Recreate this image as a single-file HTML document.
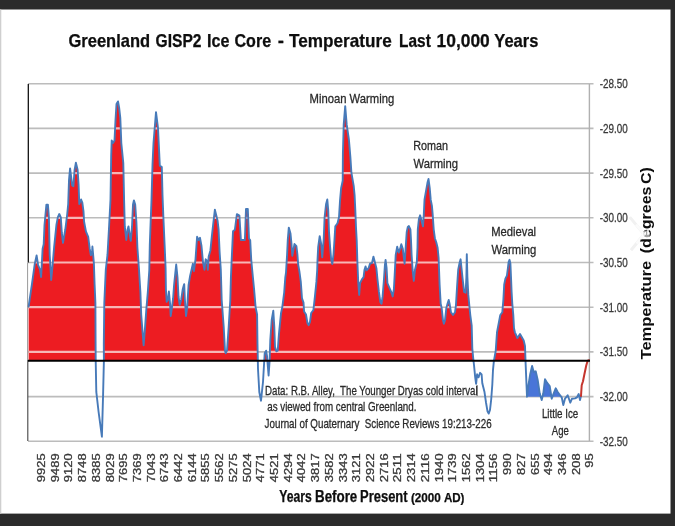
<!DOCTYPE html>
<html><head><meta charset="utf-8"><title>Greenland GISP2 Ice Core</title>
<style>html,body{margin:0;padding:0;background:#2b2b2b;}body{width:675px;height:526px;overflow:hidden;}svg{display:block;}text{font-family:"Liberation Sans",sans-serif;}</style></head><body>
<svg width="675" height="526" viewBox="0 0 675 526">
<defs><clipPath id="above"><rect x="0" y="0" width="675" height="360.7"/></clipPath>
<clipPath id="fillclip"><polygon points="28.6,360.7 28.6,306.5 29.2,302.7 31.9,284.3 34.8,263.6 36.6,255.4 38.1,265.0 40.0,269.5 41.1,277.0 42.0,260.6 42.6,248.7 43.7,244.3 44.5,225.0 45.5,214.3 46.4,204.7 47.9,204.7 48.9,217.3 49.7,254.7 51.2,280.0 52.6,265.0 54.1,247.3 56.4,225.0 57.8,217.3 59.3,214.0 60.8,217.3 61.8,232.7 63.0,242.8 65.3,229.5 67.2,214.3 68.2,204.0 69.0,180.2 70.1,168.4 71.2,177.3 72.2,185.4 73.4,186.2 74.6,169.8 75.9,162.7 77.6,169.8 78.6,184.7 79.3,204.0 81.1,199.5 82.3,202.5 83.5,211.4 84.1,221.8 86.0,231.7 88.2,236.9 89.7,248.7 90.9,255.4 92.0,253.2 92.4,246.5 93.0,253.2 93.9,263.6 94.6,284.3 95.4,302.7 95.6,344.0 95.7,360.6 96.3,391.9 98.6,412.0 101.9,436.7 103.1,394.4 103.9,360.6 103.8,344.0 104.3,302.7 105.8,269.5 107.5,254.7 109.0,228.0 110.5,199.5 111.2,155.0 111.7,140.5 113.0,143.0 114.5,140.5 115.5,120.0 116.5,104.0 118.0,101.4 119.2,108.0 120.3,117.8 121.3,143.0 123.3,163.0 124.1,200.0 124.8,226.7 126.3,240.0 127.5,229.7 128.5,226.4 129.6,234.0 130.8,240.8 132.0,226.7 133.0,204.5 133.9,200.4 135.2,204.5 136.4,222.3 137.4,247.5 138.9,268.2 140.4,292.3 141.2,314.5 142.6,332.3 143.6,345.3 144.9,329.3 146.4,308.6 147.8,292.3 149.3,270.0 149.8,244.5 150.8,217.8 151.5,200.0 152.5,165.0 153.5,143.0 156.0,112.2 158.0,128.0 159.8,165.6 161.8,167.0 162.5,195.0 163.4,217.8 164.6,244.5 165.6,268.0 165.9,289.3 166.7,301.9 167.9,299.7 168.9,291.5 170.1,304.1 170.7,316.0 172.0,307.1 173.1,298.2 174.1,284.8 175.3,273.0 176.2,264.5 177.5,277.4 178.5,296.7 179.7,304.9 181.2,299.7 182.7,289.3 184.2,284.1 184.9,299.7 186.0,316.0 187.2,307.1 188.6,284.8 190.1,275.9 192.9,263.8 193.9,271.2 195.5,259.3 197.1,236.8 198.6,240.0 200.0,237.8 201.5,246.0 203.0,262.3 204.5,269.7 205.7,259.3 207.2,260.8 207.8,269.7 208.7,256.4 210.4,250.4 211.9,235.6 213.4,222.3 214.9,209.6 216.1,214.8 217.6,220.8 218.6,229.7 219.6,251.9 220.8,269.7 221.7,300.0 223.7,326.7 225.0,350.7 225.7,353.3 227.0,350.7 228.7,326.7 230.3,300.0 230.9,277.7 231.7,259.3 233.0,231.2 234.9,229.7 236.9,214.1 239.4,215.6 240.9,240.0 244.9,240.0 246.0,208.9 247.8,208.9 249.0,238.6 250.2,240.0 251.2,259.3 252.2,270.0 254.1,289.3 255.6,307.1 257.1,314.5 257.5,344.0 258.0,369.0 259.3,392.0 261.0,400.7 263.0,382.0 263.7,370.0 264.7,353.3 266.1,350.7 267.0,356.0 268.6,375.5 269.6,360.6 270.3,340.0 271.7,320.0 273.3,310.7 274.3,326.7 275.0,346.7 276.3,351.3 277.7,350.7 279.0,333.3 281.0,313.3 282.3,307.1 284.2,292.3 285.3,277.4 286.0,272.7 287.1,254.3 287.8,239.5 288.8,227.6 290.5,233.6 291.5,244.0 292.3,255.8 293.4,249.9 294.5,244.0 296.4,246.2 297.4,254.3 298.2,264.7 299.5,272.0 300.8,281.9 302.0,298.2 303.5,302.6 304.1,311.5 306.0,314.5 307.5,323.4 308.7,325.2 310.0,321.9 311.2,313.0 313.4,310.0 314.9,296.7 316.4,281.9 317.2,270.0 317.5,260.3 318.2,246.9 319.7,236.2 321.2,244.0 322.2,257.3 323.7,239.5 324.6,217.3 326.1,203.9 327.3,199.5 328.2,209.8 329.0,232.0 330.1,246.9 331.1,258.8 332.3,264.0 333.5,254.3 334.5,239.5 335.3,226.2 337.5,223.2 339.0,217.3 340.0,200.9 341.1,188.3 342.7,180.8 342.9,154.3 343.7,124.7 345.2,106.1 346.7,124.7 348.9,139.5 350.4,157.3 351.4,172.7 353.7,185.8 354.6,195.0 355.3,209.8 356.0,227.6 356.7,240.0 357.4,262.3 358.2,281.5 359.2,294.9 360.1,283.0 361.9,279.3 363.6,277.1 364.5,269.7 365.6,266.4 366.6,270.4 368.5,268.2 370.0,263.7 372.0,263.0 373.4,256.6 374.9,262.3 376.4,268.2 377.4,278.6 378.9,291.9 380.4,302.3 381.5,303.8 382.6,296.4 383.8,281.5 384.9,265.2 385.6,260.0 386.6,268.2 387.4,283.0 389.3,287.5 391.2,291.9 392.7,296.4 393.9,289.0 394.8,272.6 395.7,254.8 397.2,246.7 398.7,252.6 400.1,248.9 401.3,244.2 402.8,248.9 403.7,256.3 404.6,263.7 405.6,248.9 406.7,232.3 407.8,227.0 408.9,226.1 410.4,229.3 411.0,240.0 411.6,254.8 412.6,269.7 413.8,280.8 415.0,269.7 416.8,262.3 417.5,247.4 417.8,229.3 418.9,219.0 420.1,215.3 421.5,220.4 423.0,226.4 423.8,214.5 424.5,199.7 426.3,189.3 427.5,182.6 428.5,178.9 429.7,187.8 430.7,199.7 431.9,205.6 432.7,214.5 433.7,229.3 434.9,238.2 436.4,242.7 437.6,247.7 438.6,257.8 439.6,284.5 440.7,303.8 441.7,308.3 443.0,320.3 443.9,323.7 445.0,320.3 446.3,308.3 447.7,303.0 448.7,300.0 449.7,304.3 451.0,312.3 453.0,315.0 455.0,312.3 455.9,305.7 457.2,284.5 458.2,269.7 459.7,262.3 460.6,259.3 461.5,268.2 462.6,278.6 464.1,291.9 465.6,292.7 466.4,277.1 466.8,254.1 467.4,277.1 468.3,294.9 469.3,305.3 470.3,315.0 471.7,325.7 472.3,348.3 473.3,359.0 474.0,365.0 475.2,377.3 476.1,383.9 477.1,374.3 478.6,377.3 480.1,372.8 481.6,374.3 482.3,383.2 484.5,392.1 486.0,402.5 487.5,411.4 488.7,413.6 490.0,409.9 491.2,399.5 492.3,384.7 493.0,369.8 493.9,360.9 495.7,351.0 497.0,332.3 499.0,321.7 500.3,315.0 502.3,312.3 503.4,299.3 504.2,284.5 505.4,278.6 506.9,275.6 507.9,268.2 508.6,262.0 509.5,259.8 510.4,263.5 511.0,277.1 511.6,291.9 512.3,303.8 513.3,315.0 514.0,328.3 514.9,332.3 517.4,338.0 520.0,334.0 523.7,340.5 525.0,346.0 525.5,360.6 527.0,396.7 528.5,385.0 530.2,374.2 532.1,366.0 533.7,372.0 535.7,371.3 537.7,380.0 539.7,393.3 541.7,400.0 543.3,393.3 545.0,379.3 547.0,382.7 549.7,386.0 551.7,398.7 553.7,393.3 555.7,388.3 557.7,392.0 559.7,394.7 561.7,397.3 563.3,405.0 565.0,398.7 567.7,395.3 570.3,402.7 572.0,398.7 575.0,398.4 577.0,397.3 578.7,394.0 580.0,400.0 581.0,396.0 581.7,385.3 583.0,381.3 584.3,374.7 586.3,365.3 587.7,360.7 589.0,360.3 589.0,360.7"/></clipPath>
<filter id="soft" x="-5%" y="-5%" width="110%" height="110%"><feGaussianBlur stdDeviation="0.45"/></filter></defs>
<rect x="0" y="0" width="675" height="526" fill="#2b2b2b"/>
<rect x="0" y="9.5" width="670.5" height="504.1" fill="#ffffff"/>
<rect x="0" y="9.5" width="1.3" height="504.1" fill="#cfcfcf"/>
<g filter="url(#soft)">
<line x1="28" y1="83.7" x2="593.5" y2="83.7" stroke="#bcbcbc" stroke-width="1.6"/>
<line x1="28" y1="128.4" x2="593.5" y2="128.4" stroke="#bcbcbc" stroke-width="1.6"/>
<line x1="28" y1="173.1" x2="593.5" y2="173.1" stroke="#bcbcbc" stroke-width="1.6"/>
<line x1="28" y1="217.8" x2="593.5" y2="217.8" stroke="#bcbcbc" stroke-width="1.6"/>
<line x1="28" y1="262.5" x2="593.5" y2="262.5" stroke="#bcbcbc" stroke-width="1.6"/>
<line x1="28" y1="307.2" x2="593.5" y2="307.2" stroke="#bcbcbc" stroke-width="1.6"/>
<line x1="28" y1="351.9" x2="593.5" y2="351.9" stroke="#bcbcbc" stroke-width="1.6"/>
<line x1="28" y1="396.6" x2="593.5" y2="396.6" stroke="#bcbcbc" stroke-width="1.6"/>
<line x1="28" y1="441.3" x2="593.5" y2="441.3" stroke="#bcbcbc" stroke-width="1.6"/>
<line x1="589.4" y1="84" x2="589.4" y2="441" stroke="#b0b0b0" stroke-width="1.4"/>
<polygon points="527.0,396.7 527.0,396.7 528.5,385.0 530.2,374.2 532.1,366.0 533.7,372.0 535.7,371.3 537.7,380.0 539.7,393.3 541.7,400.0 543.3,393.3 545.0,379.3 547.0,382.7 549.7,386.0 551.7,398.7 553.7,393.3 555.7,388.3 557.7,392.0 559.7,394.7 561.7,397.3 562.0,396.7" fill="#4a74d8"/>
<g clip-path="url(#above)"><polygon points="28.6,360.7 28.6,306.5 29.2,302.7 31.9,284.3 34.8,263.6 36.6,255.4 38.1,265.0 40.0,269.5 41.1,277.0 42.0,260.6 42.6,248.7 43.7,244.3 44.5,225.0 45.5,214.3 46.4,204.7 47.9,204.7 48.9,217.3 49.7,254.7 51.2,280.0 52.6,265.0 54.1,247.3 56.4,225.0 57.8,217.3 59.3,214.0 60.8,217.3 61.8,232.7 63.0,242.8 65.3,229.5 67.2,214.3 68.2,204.0 69.0,180.2 70.1,168.4 71.2,177.3 72.2,185.4 73.4,186.2 74.6,169.8 75.9,162.7 77.6,169.8 78.6,184.7 79.3,204.0 81.1,199.5 82.3,202.5 83.5,211.4 84.1,221.8 86.0,231.7 88.2,236.9 89.7,248.7 90.9,255.4 92.0,253.2 92.4,246.5 93.0,253.2 93.9,263.6 94.6,284.3 95.4,302.7 95.6,344.0 95.7,360.6 96.3,391.9 98.6,412.0 101.9,436.7 103.1,394.4 103.9,360.6 103.8,344.0 104.3,302.7 105.8,269.5 107.5,254.7 109.0,228.0 110.5,199.5 111.2,155.0 111.7,140.5 113.0,143.0 114.5,140.5 115.5,120.0 116.5,104.0 118.0,101.4 119.2,108.0 120.3,117.8 121.3,143.0 123.3,163.0 124.1,200.0 124.8,226.7 126.3,240.0 127.5,229.7 128.5,226.4 129.6,234.0 130.8,240.8 132.0,226.7 133.0,204.5 133.9,200.4 135.2,204.5 136.4,222.3 137.4,247.5 138.9,268.2 140.4,292.3 141.2,314.5 142.6,332.3 143.6,345.3 144.9,329.3 146.4,308.6 147.8,292.3 149.3,270.0 149.8,244.5 150.8,217.8 151.5,200.0 152.5,165.0 153.5,143.0 156.0,112.2 158.0,128.0 159.8,165.6 161.8,167.0 162.5,195.0 163.4,217.8 164.6,244.5 165.6,268.0 165.9,289.3 166.7,301.9 167.9,299.7 168.9,291.5 170.1,304.1 170.7,316.0 172.0,307.1 173.1,298.2 174.1,284.8 175.3,273.0 176.2,264.5 177.5,277.4 178.5,296.7 179.7,304.9 181.2,299.7 182.7,289.3 184.2,284.1 184.9,299.7 186.0,316.0 187.2,307.1 188.6,284.8 190.1,275.9 192.9,263.8 193.9,271.2 195.5,259.3 197.1,236.8 198.6,240.0 200.0,237.8 201.5,246.0 203.0,262.3 204.5,269.7 205.7,259.3 207.2,260.8 207.8,269.7 208.7,256.4 210.4,250.4 211.9,235.6 213.4,222.3 214.9,209.6 216.1,214.8 217.6,220.8 218.6,229.7 219.6,251.9 220.8,269.7 221.7,300.0 223.7,326.7 225.0,350.7 225.7,353.3 227.0,350.7 228.7,326.7 230.3,300.0 230.9,277.7 231.7,259.3 233.0,231.2 234.9,229.7 236.9,214.1 239.4,215.6 240.9,240.0 244.9,240.0 246.0,208.9 247.8,208.9 249.0,238.6 250.2,240.0 251.2,259.3 252.2,270.0 254.1,289.3 255.6,307.1 257.1,314.5 257.5,344.0 258.0,369.0 259.3,392.0 261.0,400.7 263.0,382.0 263.7,370.0 264.7,353.3 266.1,350.7 267.0,356.0 268.6,375.5 269.6,360.6 270.3,340.0 271.7,320.0 273.3,310.7 274.3,326.7 275.0,346.7 276.3,351.3 277.7,350.7 279.0,333.3 281.0,313.3 282.3,307.1 284.2,292.3 285.3,277.4 286.0,272.7 287.1,254.3 287.8,239.5 288.8,227.6 290.5,233.6 291.5,244.0 292.3,255.8 293.4,249.9 294.5,244.0 296.4,246.2 297.4,254.3 298.2,264.7 299.5,272.0 300.8,281.9 302.0,298.2 303.5,302.6 304.1,311.5 306.0,314.5 307.5,323.4 308.7,325.2 310.0,321.9 311.2,313.0 313.4,310.0 314.9,296.7 316.4,281.9 317.2,270.0 317.5,260.3 318.2,246.9 319.7,236.2 321.2,244.0 322.2,257.3 323.7,239.5 324.6,217.3 326.1,203.9 327.3,199.5 328.2,209.8 329.0,232.0 330.1,246.9 331.1,258.8 332.3,264.0 333.5,254.3 334.5,239.5 335.3,226.2 337.5,223.2 339.0,217.3 340.0,200.9 341.1,188.3 342.7,180.8 342.9,154.3 343.7,124.7 345.2,106.1 346.7,124.7 348.9,139.5 350.4,157.3 351.4,172.7 353.7,185.8 354.6,195.0 355.3,209.8 356.0,227.6 356.7,240.0 357.4,262.3 358.2,281.5 359.2,294.9 360.1,283.0 361.9,279.3 363.6,277.1 364.5,269.7 365.6,266.4 366.6,270.4 368.5,268.2 370.0,263.7 372.0,263.0 373.4,256.6 374.9,262.3 376.4,268.2 377.4,278.6 378.9,291.9 380.4,302.3 381.5,303.8 382.6,296.4 383.8,281.5 384.9,265.2 385.6,260.0 386.6,268.2 387.4,283.0 389.3,287.5 391.2,291.9 392.7,296.4 393.9,289.0 394.8,272.6 395.7,254.8 397.2,246.7 398.7,252.6 400.1,248.9 401.3,244.2 402.8,248.9 403.7,256.3 404.6,263.7 405.6,248.9 406.7,232.3 407.8,227.0 408.9,226.1 410.4,229.3 411.0,240.0 411.6,254.8 412.6,269.7 413.8,280.8 415.0,269.7 416.8,262.3 417.5,247.4 417.8,229.3 418.9,219.0 420.1,215.3 421.5,220.4 423.0,226.4 423.8,214.5 424.5,199.7 426.3,189.3 427.5,182.6 428.5,178.9 429.7,187.8 430.7,199.7 431.9,205.6 432.7,214.5 433.7,229.3 434.9,238.2 436.4,242.7 437.6,247.7 438.6,257.8 439.6,284.5 440.7,303.8 441.7,308.3 443.0,320.3 443.9,323.7 445.0,320.3 446.3,308.3 447.7,303.0 448.7,300.0 449.7,304.3 451.0,312.3 453.0,315.0 455.0,312.3 455.9,305.7 457.2,284.5 458.2,269.7 459.7,262.3 460.6,259.3 461.5,268.2 462.6,278.6 464.1,291.9 465.6,292.7 466.4,277.1 466.8,254.1 467.4,277.1 468.3,294.9 469.3,305.3 470.3,315.0 471.7,325.7 472.3,348.3 473.3,359.0 474.0,365.0 475.2,377.3 476.1,383.9 477.1,374.3 478.6,377.3 480.1,372.8 481.6,374.3 482.3,383.2 484.5,392.1 486.0,402.5 487.5,411.4 488.7,413.6 490.0,409.9 491.2,399.5 492.3,384.7 493.0,369.8 493.9,360.9 495.7,351.0 497.0,332.3 499.0,321.7 500.3,315.0 502.3,312.3 503.4,299.3 504.2,284.5 505.4,278.6 506.9,275.6 507.9,268.2 508.6,262.0 509.5,259.8 510.4,263.5 511.0,277.1 511.6,291.9 512.3,303.8 513.3,315.0 514.0,328.3 514.9,332.3 517.4,338.0 520.0,334.0 523.7,340.5 525.0,346.0 525.5,360.6 527.0,396.7 528.5,385.0 530.2,374.2 532.1,366.0 533.7,372.0 535.7,371.3 537.7,380.0 539.7,393.3 541.7,400.0 543.3,393.3 545.0,379.3 547.0,382.7 549.7,386.0 551.7,398.7 553.7,393.3 555.7,388.3 557.7,392.0 559.7,394.7 561.7,397.3 563.3,405.0 565.0,398.7 567.7,395.3 570.3,402.7 572.0,398.7 575.0,398.4 577.0,397.3 578.7,394.0 580.0,400.0 581.0,396.0 581.7,385.3 583.0,381.3 584.3,374.7 586.3,365.3 587.7,360.7 589.0,360.3 589.0,360.7" fill="#ed1c24"/></g>
<g clip-path="url(#above)"><g clip-path="url(#fillclip)">
<line x1="28" y1="128.4" x2="590" y2="128.4" stroke="#f7b6b6" stroke-width="2.2"/>
<line x1="28" y1="173.1" x2="590" y2="173.1" stroke="#f7b6b6" stroke-width="2.2"/>
<line x1="28" y1="217.8" x2="590" y2="217.8" stroke="#f7b6b6" stroke-width="2.2"/>
<line x1="28" y1="262.5" x2="590" y2="262.5" stroke="#f7b6b6" stroke-width="2.2"/>
<line x1="28" y1="307.2" x2="590" y2="307.2" stroke="#f7b6b6" stroke-width="2.2"/>
<line x1="28" y1="351.9" x2="590" y2="351.9" stroke="#f7b6b6" stroke-width="2.2"/>
</g></g>
<line x1="28.3" y1="84" x2="28.3" y2="262.5" stroke="#111" stroke-width="1.3"/>
<line x1="27.6" y1="262.5" x2="27.6" y2="360" stroke="#9a9a9a" stroke-width="1"/>
<line x1="27.8" y1="360" x2="27.8" y2="441" stroke="#444" stroke-width="1.1"/>
<polyline points="28.6,306.5 29.2,302.7 31.9,284.3 34.8,263.6 36.6,255.4 38.1,265.0 40.0,269.5 41.1,277.0 42.0,260.6 42.6,248.7 43.7,244.3 44.5,225.0 45.5,214.3 46.4,204.7 47.9,204.7 48.9,217.3 49.7,254.7 51.2,280.0 52.6,265.0 54.1,247.3 56.4,225.0 57.8,217.3 59.3,214.0 60.8,217.3 61.8,232.7 63.0,242.8 65.3,229.5 67.2,214.3 68.2,204.0 69.0,180.2 70.1,168.4 71.2,177.3 72.2,185.4 73.4,186.2 74.6,169.8 75.9,162.7 77.6,169.8 78.6,184.7 79.3,204.0 81.1,199.5 82.3,202.5 83.5,211.4 84.1,221.8 86.0,231.7 88.2,236.9 89.7,248.7 90.9,255.4 92.0,253.2 92.4,246.5 93.0,253.2 93.9,263.6 94.6,284.3 95.4,302.7 95.6,344.0 95.7,360.6 96.3,391.9 98.6,412.0 101.9,436.7 103.1,394.4 103.9,360.6 103.8,344.0 104.3,302.7 105.8,269.5 107.5,254.7 109.0,228.0 110.5,199.5 111.2,155.0 111.7,140.5 113.0,143.0 114.5,140.5 115.5,120.0 116.5,104.0 118.0,101.4 119.2,108.0 120.3,117.8 121.3,143.0 123.3,163.0 124.1,200.0 124.8,226.7 126.3,240.0 127.5,229.7 128.5,226.4 129.6,234.0 130.8,240.8 132.0,226.7 133.0,204.5 133.9,200.4 135.2,204.5 136.4,222.3 137.4,247.5 138.9,268.2 140.4,292.3 141.2,314.5 142.6,332.3 143.6,345.3 144.9,329.3 146.4,308.6 147.8,292.3 149.3,270.0 149.8,244.5 150.8,217.8 151.5,200.0 152.5,165.0 153.5,143.0 156.0,112.2 158.0,128.0 159.8,165.6 161.8,167.0 162.5,195.0 163.4,217.8 164.6,244.5 165.6,268.0 165.9,289.3 166.7,301.9 167.9,299.7 168.9,291.5 170.1,304.1 170.7,316.0 172.0,307.1 173.1,298.2 174.1,284.8 175.3,273.0 176.2,264.5 177.5,277.4 178.5,296.7 179.7,304.9 181.2,299.7 182.7,289.3 184.2,284.1 184.9,299.7 186.0,316.0 187.2,307.1 188.6,284.8 190.1,275.9 192.9,263.8 193.9,271.2 195.5,259.3 197.1,236.8 198.6,240.0 200.0,237.8 201.5,246.0 203.0,262.3 204.5,269.7 205.7,259.3 207.2,260.8 207.8,269.7 208.7,256.4 210.4,250.4 211.9,235.6 213.4,222.3 214.9,209.6 216.1,214.8 217.6,220.8 218.6,229.7 219.6,251.9 220.8,269.7 221.7,300.0 223.7,326.7 225.0,350.7 225.7,353.3 227.0,350.7 228.7,326.7 230.3,300.0 230.9,277.7 231.7,259.3 233.0,231.2 234.9,229.7 236.9,214.1 239.4,215.6 240.9,240.0 244.9,240.0 246.0,208.9 247.8,208.9 249.0,238.6 250.2,240.0 251.2,259.3 252.2,270.0 254.1,289.3 255.6,307.1 257.1,314.5 257.5,344.0 258.0,369.0 259.3,392.0 261.0,400.7 263.0,382.0 263.7,370.0 264.7,353.3 266.1,350.7 267.0,356.0 268.6,375.5 269.6,360.6 270.3,340.0 271.7,320.0 273.3,310.7 274.3,326.7 275.0,346.7 276.3,351.3 277.7,350.7 279.0,333.3 281.0,313.3 282.3,307.1 284.2,292.3 285.3,277.4 286.0,272.7 287.1,254.3 287.8,239.5 288.8,227.6 290.5,233.6 291.5,244.0 292.3,255.8 293.4,249.9 294.5,244.0 296.4,246.2 297.4,254.3 298.2,264.7 299.5,272.0 300.8,281.9 302.0,298.2 303.5,302.6 304.1,311.5 306.0,314.5 307.5,323.4 308.7,325.2 310.0,321.9 311.2,313.0 313.4,310.0 314.9,296.7 316.4,281.9 317.2,270.0 317.5,260.3 318.2,246.9 319.7,236.2 321.2,244.0 322.2,257.3 323.7,239.5 324.6,217.3 326.1,203.9 327.3,199.5 328.2,209.8 329.0,232.0 330.1,246.9 331.1,258.8 332.3,264.0 333.5,254.3 334.5,239.5 335.3,226.2 337.5,223.2 339.0,217.3 340.0,200.9 341.1,188.3 342.7,180.8 342.9,154.3 343.7,124.7 345.2,106.1 346.7,124.7 348.9,139.5 350.4,157.3 351.4,172.7 353.7,185.8 354.6,195.0 355.3,209.8 356.0,227.6 356.7,240.0 357.4,262.3 358.2,281.5 359.2,294.9 360.1,283.0 361.9,279.3 363.6,277.1 364.5,269.7 365.6,266.4 366.6,270.4 368.5,268.2 370.0,263.7 372.0,263.0 373.4,256.6 374.9,262.3 376.4,268.2 377.4,278.6 378.9,291.9 380.4,302.3 381.5,303.8 382.6,296.4 383.8,281.5 384.9,265.2 385.6,260.0 386.6,268.2 387.4,283.0 389.3,287.5 391.2,291.9 392.7,296.4 393.9,289.0 394.8,272.6 395.7,254.8 397.2,246.7 398.7,252.6 400.1,248.9 401.3,244.2 402.8,248.9 403.7,256.3 404.6,263.7 405.6,248.9 406.7,232.3 407.8,227.0 408.9,226.1 410.4,229.3 411.0,240.0 411.6,254.8 412.6,269.7 413.8,280.8 415.0,269.7 416.8,262.3 417.5,247.4 417.8,229.3 418.9,219.0 420.1,215.3 421.5,220.4 423.0,226.4 423.8,214.5 424.5,199.7 426.3,189.3 427.5,182.6 428.5,178.9 429.7,187.8 430.7,199.7 431.9,205.6 432.7,214.5 433.7,229.3 434.9,238.2 436.4,242.7 437.6,247.7 438.6,257.8 439.6,284.5 440.7,303.8 441.7,308.3 443.0,320.3 443.9,323.7 445.0,320.3 446.3,308.3 447.7,303.0 448.7,300.0 449.7,304.3 451.0,312.3 453.0,315.0 455.0,312.3 455.9,305.7 457.2,284.5 458.2,269.7 459.7,262.3 460.6,259.3 461.5,268.2 462.6,278.6 464.1,291.9 465.6,292.7 466.4,277.1 466.8,254.1 467.4,277.1 468.3,294.9 469.3,305.3 470.3,315.0 471.7,325.7 472.3,348.3 473.3,359.0 474.0,365.0 475.2,377.3 476.1,383.9 477.1,374.3 478.6,377.3 480.1,372.8 481.6,374.3 482.3,383.2 484.5,392.1 486.0,402.5 487.5,411.4 488.7,413.6 490.0,409.9 491.2,399.5 492.3,384.7 493.0,369.8 493.9,360.9 495.7,351.0 497.0,332.3 499.0,321.7 500.3,315.0 502.3,312.3 503.4,299.3 504.2,284.5 505.4,278.6 506.9,275.6 507.9,268.2 508.6,262.0 509.5,259.8 510.4,263.5 511.0,277.1 511.6,291.9 512.3,303.8 513.3,315.0 514.0,328.3 514.9,332.3 517.4,338.0 520.0,334.0 523.7,340.5 525.0,346.0 525.5,360.6 527.0,396.7 528.5,385.0 530.2,374.2 532.1,366.0 533.7,372.0 535.7,371.3 537.7,380.0 539.7,393.3 541.7,400.0 543.3,393.3 545.0,379.3 547.0,382.7 549.7,386.0 551.7,398.7 553.7,393.3 555.7,388.3 557.7,392.0 559.7,394.7 561.7,397.3 563.3,405.0 565.0,398.7 567.7,395.3 570.3,402.7 572.0,398.7 575.0,398.4 577.0,397.3 578.7,394.0 580.0,400.0 581.0,396.0" fill="none" stroke="#477ab9" stroke-width="1.9" stroke-linejoin="round" stroke-linecap="round"/>
<polyline points="581.0,396.0 581.7,385.3 583.0,381.3 584.3,374.7 586.3,365.3 587.7,360.7 589.0,360.3" fill="none" stroke="#c5352d" stroke-width="2" stroke-linejoin="round" stroke-linecap="round"/>
<line x1="477.2" y1="385.2" x2="477.2" y2="396" stroke="#555" stroke-width="0.9"/>
<line x1="28" y1="360.7" x2="590" y2="360.7" stroke="#000" stroke-width="2"/>
</g>
<polyline points="629.8,217.1 644,234.2 631,250.2" fill="none" stroke="#f1f1f1" stroke-width="3" filter="url(#soft)"/>
<g filter="url(#soft)">
<text x="68.5" y="46.5" font-size="18.6" font-weight="bold" fill="#0c0c0c" stroke="#0c0c0c" stroke-width="0.25" text-anchor="start" textLength="81.6" lengthAdjust="spacingAndGlyphs">Greenland</text>
<text x="155.5" y="46.5" font-size="18.6" font-weight="bold" fill="#0c0c0c" stroke="#0c0c0c" stroke-width="0.25" text-anchor="start" textLength="46" lengthAdjust="spacingAndGlyphs">GISP2</text>
<text x="207.1" y="46.5" font-size="18.6" font-weight="bold" fill="#0c0c0c" stroke="#0c0c0c" stroke-width="0.25" text-anchor="start" textLength="22.4" lengthAdjust="spacingAndGlyphs">Ice</text>
<text x="234.5" y="46.5" font-size="18.6" font-weight="bold" fill="#0c0c0c" stroke="#0c0c0c" stroke-width="0.25" text-anchor="start" textLength="36.6" lengthAdjust="spacingAndGlyphs">Core</text>
<text x="277.7" y="46.5" font-size="18.6" font-weight="bold" fill="#0c0c0c" stroke="#0c0c0c" stroke-width="0.25" text-anchor="start" textLength="6.2" lengthAdjust="spacingAndGlyphs">-</text>
<text x="289.1" y="46.5" font-size="18.6" font-weight="bold" fill="#0c0c0c" stroke="#0c0c0c" stroke-width="0.25" text-anchor="start" textLength="102.6" lengthAdjust="spacingAndGlyphs">Temperature</text>
<text x="399.1" y="46.5" font-size="18.6" font-weight="bold" fill="#0c0c0c" stroke="#0c0c0c" stroke-width="0.25" text-anchor="start" textLength="31.7" lengthAdjust="spacingAndGlyphs">Last</text>
<text x="436.6" y="46.5" font-size="18.6" font-weight="bold" fill="#0c0c0c" stroke="#0c0c0c" stroke-width="0.25" text-anchor="start" textLength="53.2" lengthAdjust="spacingAndGlyphs">10,000</text>
<text x="494.3" y="46.5" font-size="18.6" font-weight="bold" fill="#0c0c0c" stroke="#0c0c0c" stroke-width="0.25" text-anchor="start" textLength="44.0" lengthAdjust="spacingAndGlyphs">Years</text>
<text x="599.7" y="88.1" font-size="12.5" font-weight="normal" fill="#3a3a3a" stroke="#3a3a3a" stroke-width="0.3" text-anchor="start" textLength="28" lengthAdjust="spacingAndGlyphs">-28.50</text>
<text x="599.7" y="132.8" font-size="12.5" font-weight="normal" fill="#3a3a3a" stroke="#3a3a3a" stroke-width="0.3" text-anchor="start" textLength="28" lengthAdjust="spacingAndGlyphs">-29.00</text>
<text x="599.7" y="177.5" font-size="12.5" font-weight="normal" fill="#3a3a3a" stroke="#3a3a3a" stroke-width="0.3" text-anchor="start" textLength="28" lengthAdjust="spacingAndGlyphs">-29.50</text>
<text x="599.7" y="222.2" font-size="12.5" font-weight="normal" fill="#3a3a3a" stroke="#3a3a3a" stroke-width="0.3" text-anchor="start" textLength="28" lengthAdjust="spacingAndGlyphs">-30.00</text>
<text x="599.7" y="266.9" font-size="12.5" font-weight="normal" fill="#3a3a3a" stroke="#3a3a3a" stroke-width="0.3" text-anchor="start" textLength="28" lengthAdjust="spacingAndGlyphs">-30.50</text>
<text x="599.7" y="311.6" font-size="12.5" font-weight="normal" fill="#3a3a3a" stroke="#3a3a3a" stroke-width="0.3" text-anchor="start" textLength="28" lengthAdjust="spacingAndGlyphs">-31.00</text>
<text x="599.7" y="356.3" font-size="12.5" font-weight="normal" fill="#3a3a3a" stroke="#3a3a3a" stroke-width="0.3" text-anchor="start" textLength="28" lengthAdjust="spacingAndGlyphs">-31.50</text>
<text x="599.7" y="401.0" font-size="12.5" font-weight="normal" fill="#3a3a3a" stroke="#3a3a3a" stroke-width="0.3" text-anchor="start" textLength="28" lengthAdjust="spacingAndGlyphs">-32.00</text>
<text x="599.7" y="445.7" font-size="12.5" font-weight="normal" fill="#3a3a3a" stroke="#3a3a3a" stroke-width="0.3" text-anchor="start" textLength="28" lengthAdjust="spacingAndGlyphs">-32.50</text>
<text transform="translate(44.9,453.4) rotate(-90)" font-size="10.8" fill="#3a3a3a" stroke="#3a3a3a" stroke-width="0.3" text-anchor="end" textLength="28.8" lengthAdjust="spacingAndGlyphs">9925</text>
<text transform="translate(58.6,453.4) rotate(-90)" font-size="10.8" fill="#3a3a3a" stroke="#3a3a3a" stroke-width="0.3" text-anchor="end" textLength="28.8" lengthAdjust="spacingAndGlyphs">9489</text>
<text transform="translate(72.3,453.4) rotate(-90)" font-size="10.8" fill="#3a3a3a" stroke="#3a3a3a" stroke-width="0.3" text-anchor="end" textLength="28.8" lengthAdjust="spacingAndGlyphs">9120</text>
<text transform="translate(86.0,453.4) rotate(-90)" font-size="10.8" fill="#3a3a3a" stroke="#3a3a3a" stroke-width="0.3" text-anchor="end" textLength="28.8" lengthAdjust="spacingAndGlyphs">8748</text>
<text transform="translate(99.7,453.4) rotate(-90)" font-size="10.8" fill="#3a3a3a" stroke="#3a3a3a" stroke-width="0.3" text-anchor="end" textLength="28.8" lengthAdjust="spacingAndGlyphs">8385</text>
<text transform="translate(113.5,453.4) rotate(-90)" font-size="10.8" fill="#3a3a3a" stroke="#3a3a3a" stroke-width="0.3" text-anchor="end" textLength="28.8" lengthAdjust="spacingAndGlyphs">8029</text>
<text transform="translate(127.2,453.4) rotate(-90)" font-size="10.8" fill="#3a3a3a" stroke="#3a3a3a" stroke-width="0.3" text-anchor="end" textLength="28.8" lengthAdjust="spacingAndGlyphs">7695</text>
<text transform="translate(140.9,453.4) rotate(-90)" font-size="10.8" fill="#3a3a3a" stroke="#3a3a3a" stroke-width="0.3" text-anchor="end" textLength="28.8" lengthAdjust="spacingAndGlyphs">7369</text>
<text transform="translate(154.6,453.4) rotate(-90)" font-size="10.8" fill="#3a3a3a" stroke="#3a3a3a" stroke-width="0.3" text-anchor="end" textLength="28.8" lengthAdjust="spacingAndGlyphs">7043</text>
<text transform="translate(168.3,453.4) rotate(-90)" font-size="10.8" fill="#3a3a3a" stroke="#3a3a3a" stroke-width="0.3" text-anchor="end" textLength="28.8" lengthAdjust="spacingAndGlyphs">6743</text>
<text transform="translate(182.0,453.4) rotate(-90)" font-size="10.8" fill="#3a3a3a" stroke="#3a3a3a" stroke-width="0.3" text-anchor="end" textLength="28.8" lengthAdjust="spacingAndGlyphs">6442</text>
<text transform="translate(195.7,453.4) rotate(-90)" font-size="10.8" fill="#3a3a3a" stroke="#3a3a3a" stroke-width="0.3" text-anchor="end" textLength="28.8" lengthAdjust="spacingAndGlyphs">6144</text>
<text transform="translate(209.4,453.4) rotate(-90)" font-size="10.8" fill="#3a3a3a" stroke="#3a3a3a" stroke-width="0.3" text-anchor="end" textLength="28.8" lengthAdjust="spacingAndGlyphs">5855</text>
<text transform="translate(223.1,453.4) rotate(-90)" font-size="10.8" fill="#3a3a3a" stroke="#3a3a3a" stroke-width="0.3" text-anchor="end" textLength="28.8" lengthAdjust="spacingAndGlyphs">5562</text>
<text transform="translate(236.8,453.4) rotate(-90)" font-size="10.8" fill="#3a3a3a" stroke="#3a3a3a" stroke-width="0.3" text-anchor="end" textLength="28.8" lengthAdjust="spacingAndGlyphs">5275</text>
<text transform="translate(250.6,453.4) rotate(-90)" font-size="10.8" fill="#3a3a3a" stroke="#3a3a3a" stroke-width="0.3" text-anchor="end" textLength="28.8" lengthAdjust="spacingAndGlyphs">5024</text>
<text transform="translate(264.3,453.4) rotate(-90)" font-size="10.8" fill="#3a3a3a" stroke="#3a3a3a" stroke-width="0.3" text-anchor="end" textLength="28.8" lengthAdjust="spacingAndGlyphs">4771</text>
<text transform="translate(278.0,453.4) rotate(-90)" font-size="10.8" fill="#3a3a3a" stroke="#3a3a3a" stroke-width="0.3" text-anchor="end" textLength="28.8" lengthAdjust="spacingAndGlyphs">4521</text>
<text transform="translate(291.7,453.4) rotate(-90)" font-size="10.8" fill="#3a3a3a" stroke="#3a3a3a" stroke-width="0.3" text-anchor="end" textLength="28.8" lengthAdjust="spacingAndGlyphs">4294</text>
<text transform="translate(305.4,453.4) rotate(-90)" font-size="10.8" fill="#3a3a3a" stroke="#3a3a3a" stroke-width="0.3" text-anchor="end" textLength="28.8" lengthAdjust="spacingAndGlyphs">4042</text>
<text transform="translate(319.1,453.4) rotate(-90)" font-size="10.8" fill="#3a3a3a" stroke="#3a3a3a" stroke-width="0.3" text-anchor="end" textLength="28.8" lengthAdjust="spacingAndGlyphs">3817</text>
<text transform="translate(332.8,453.4) rotate(-90)" font-size="10.8" fill="#3a3a3a" stroke="#3a3a3a" stroke-width="0.3" text-anchor="end" textLength="28.8" lengthAdjust="spacingAndGlyphs">3582</text>
<text transform="translate(346.5,453.4) rotate(-90)" font-size="10.8" fill="#3a3a3a" stroke="#3a3a3a" stroke-width="0.3" text-anchor="end" textLength="28.8" lengthAdjust="spacingAndGlyphs">3343</text>
<text transform="translate(360.2,453.4) rotate(-90)" font-size="10.8" fill="#3a3a3a" stroke="#3a3a3a" stroke-width="0.3" text-anchor="end" textLength="28.8" lengthAdjust="spacingAndGlyphs">3121</text>
<text transform="translate(373.9,453.4) rotate(-90)" font-size="10.8" fill="#3a3a3a" stroke="#3a3a3a" stroke-width="0.3" text-anchor="end" textLength="28.8" lengthAdjust="spacingAndGlyphs">2922</text>
<text transform="translate(387.6,453.4) rotate(-90)" font-size="10.8" fill="#3a3a3a" stroke="#3a3a3a" stroke-width="0.3" text-anchor="end" textLength="28.8" lengthAdjust="spacingAndGlyphs">2716</text>
<text transform="translate(401.4,453.4) rotate(-90)" font-size="10.8" fill="#3a3a3a" stroke="#3a3a3a" stroke-width="0.3" text-anchor="end" textLength="28.8" lengthAdjust="spacingAndGlyphs">2511</text>
<text transform="translate(415.1,453.4) rotate(-90)" font-size="10.8" fill="#3a3a3a" stroke="#3a3a3a" stroke-width="0.3" text-anchor="end" textLength="28.8" lengthAdjust="spacingAndGlyphs">2314</text>
<text transform="translate(428.8,453.4) rotate(-90)" font-size="10.8" fill="#3a3a3a" stroke="#3a3a3a" stroke-width="0.3" text-anchor="end" textLength="28.8" lengthAdjust="spacingAndGlyphs">2116</text>
<text transform="translate(442.5,453.4) rotate(-90)" font-size="10.8" fill="#3a3a3a" stroke="#3a3a3a" stroke-width="0.3" text-anchor="end" textLength="28.8" lengthAdjust="spacingAndGlyphs">1940</text>
<text transform="translate(456.2,453.4) rotate(-90)" font-size="10.8" fill="#3a3a3a" stroke="#3a3a3a" stroke-width="0.3" text-anchor="end" textLength="28.8" lengthAdjust="spacingAndGlyphs">1739</text>
<text transform="translate(469.9,453.4) rotate(-90)" font-size="10.8" fill="#3a3a3a" stroke="#3a3a3a" stroke-width="0.3" text-anchor="end" textLength="28.8" lengthAdjust="spacingAndGlyphs">1562</text>
<text transform="translate(483.6,453.4) rotate(-90)" font-size="10.8" fill="#3a3a3a" stroke="#3a3a3a" stroke-width="0.3" text-anchor="end" textLength="28.8" lengthAdjust="spacingAndGlyphs">1304</text>
<text transform="translate(497.3,453.4) rotate(-90)" font-size="10.8" fill="#3a3a3a" stroke="#3a3a3a" stroke-width="0.3" text-anchor="end" textLength="28.8" lengthAdjust="spacingAndGlyphs">1156</text>
<text transform="translate(511.0,453.4) rotate(-90)" font-size="10.8" fill="#3a3a3a" stroke="#3a3a3a" stroke-width="0.3" text-anchor="end" textLength="21.6" lengthAdjust="spacingAndGlyphs">990</text>
<text transform="translate(524.8,453.4) rotate(-90)" font-size="10.8" fill="#3a3a3a" stroke="#3a3a3a" stroke-width="0.3" text-anchor="end" textLength="21.6" lengthAdjust="spacingAndGlyphs">827</text>
<text transform="translate(538.5,453.4) rotate(-90)" font-size="10.8" fill="#3a3a3a" stroke="#3a3a3a" stroke-width="0.3" text-anchor="end" textLength="21.6" lengthAdjust="spacingAndGlyphs">655</text>
<text transform="translate(552.2,453.4) rotate(-90)" font-size="10.8" fill="#3a3a3a" stroke="#3a3a3a" stroke-width="0.3" text-anchor="end" textLength="21.6" lengthAdjust="spacingAndGlyphs">494</text>
<text transform="translate(565.9,453.4) rotate(-90)" font-size="10.8" fill="#3a3a3a" stroke="#3a3a3a" stroke-width="0.3" text-anchor="end" textLength="21.6" lengthAdjust="spacingAndGlyphs">346</text>
<text transform="translate(579.6,453.4) rotate(-90)" font-size="10.8" fill="#3a3a3a" stroke="#3a3a3a" stroke-width="0.3" text-anchor="end" textLength="21.6" lengthAdjust="spacingAndGlyphs">208</text>
<text transform="translate(593.3,453.4) rotate(-90)" font-size="10.8" fill="#3a3a3a" stroke="#3a3a3a" stroke-width="0.3" text-anchor="end" textLength="14.4" lengthAdjust="spacingAndGlyphs">95</text>
<text x="279.2" y="501.6" font-size="16" font-weight="bold" fill="#0c0c0c" stroke="#0c0c0c" stroke-width="0.25" text-anchor="start" textLength="32.5" lengthAdjust="spacingAndGlyphs">Years</text>
<text x="315.0" y="501.6" font-size="16" font-weight="bold" fill="#0c0c0c" stroke="#0c0c0c" stroke-width="0.25" text-anchor="start" textLength="42.3" lengthAdjust="spacingAndGlyphs">Before</text>
<text x="360.0" y="501.6" font-size="16" font-weight="bold" fill="#0c0c0c" stroke="#0c0c0c" stroke-width="0.25" text-anchor="start" textLength="47.6" lengthAdjust="spacingAndGlyphs">Present</text>
<text x="410.9" y="501.6" font-size="13.4" font-weight="bold" fill="#0c0c0c" stroke="#0c0c0c" stroke-width="0.25" text-anchor="start" textLength="30.0" lengthAdjust="spacingAndGlyphs">(2000</text>
<text x="443.9" y="501.6" font-size="13.4" font-weight="bold" fill="#0c0c0c" stroke="#0c0c0c" stroke-width="0.25" text-anchor="start" textLength="20.6" lengthAdjust="spacingAndGlyphs">AD)</text>
<text transform="translate(651,359.4) rotate(-90)" font-size="15" font-weight="bold" fill="#0c0c0c" textLength="98.6" lengthAdjust="spacingAndGlyphs">Temperature</text>
<text transform="translate(651,253.2) rotate(-90)" font-size="15" font-weight="bold" fill="#0c0c0c" textLength="66.6" lengthAdjust="spacingAndGlyphs">(degrees</text>
<text transform="translate(651,184.0) rotate(-90)" font-size="15" font-weight="bold" fill="#0c0c0c" textLength="16.8" lengthAdjust="spacingAndGlyphs">C)</text>
<text x="309.6" y="103.2" font-size="13" font-weight="normal" fill="#2a2a2a" stroke="#2a2a2a" stroke-width="0.3" text-anchor="start" textLength="84.6" lengthAdjust="spacingAndGlyphs">Minoan Warming</text>
<text x="413.3" y="150" font-size="13" font-weight="normal" fill="#2a2a2a" stroke="#2a2a2a" stroke-width="0.3" text-anchor="start" textLength="34.8" lengthAdjust="spacingAndGlyphs">Roman</text>
<text x="413.5" y="168.2" font-size="13" font-weight="normal" fill="#2a2a2a" stroke="#2a2a2a" stroke-width="0.3" text-anchor="start" textLength="44.6" lengthAdjust="spacingAndGlyphs">Warming</text>
<text x="491.3" y="236" font-size="13" font-weight="normal" fill="#2a2a2a" stroke="#2a2a2a" stroke-width="0.3" text-anchor="start" textLength="44.8" lengthAdjust="spacingAndGlyphs">Medieval</text>
<text x="491.6" y="254.1" font-size="13" font-weight="normal" fill="#2a2a2a" stroke="#2a2a2a" stroke-width="0.3" text-anchor="start" textLength="44.6" lengthAdjust="spacingAndGlyphs">Warming</text>
<text x="541.9" y="417.6" font-size="13" font-weight="normal" fill="#2a2a2a" stroke="#2a2a2a" stroke-width="0.3" text-anchor="start" textLength="36.4" lengthAdjust="spacingAndGlyphs">Little Ice</text>
<text x="551.8" y="434.5" font-size="13" font-weight="normal" fill="#2a2a2a" stroke="#2a2a2a" stroke-width="0.3" text-anchor="start" textLength="17" lengthAdjust="spacingAndGlyphs">Age</text>
<text x="265" y="394.6" font-size="13" font-weight="normal" fill="#2a2a2a" stroke="#2a2a2a" stroke-width="0.3" text-anchor="start" textLength="212.6" lengthAdjust="spacingAndGlyphs" xml:space="preserve">Data: R.B. Alley,  The Younger Dryas cold interval</text>
<text x="267.2" y="410.6" font-size="13" font-weight="normal" fill="#2a2a2a" stroke="#2a2a2a" stroke-width="0.3" text-anchor="start" textLength="149.3" lengthAdjust="spacingAndGlyphs">as viewed from central Greenland.</text>
<text x="264.6" y="428.4" font-size="13" font-weight="normal" fill="#2a2a2a" stroke="#2a2a2a" stroke-width="0.3" text-anchor="start" textLength="227" lengthAdjust="spacingAndGlyphs" xml:space="preserve">Journal of Quaternary  Science Reviews 19:213-226</text>
</g>
<polyline points="636,224.5 644,234.2 636.5,243.5" fill="none" stroke="#ffffff" stroke-opacity="0.7" stroke-width="2.6" filter="url(#soft)"/>
<ellipse cx="646.2" cy="234.6" rx="3.6" ry="4" fill="#ffffff" fill-opacity="0.62" filter="url(#soft)"/>
</svg></body></html>
